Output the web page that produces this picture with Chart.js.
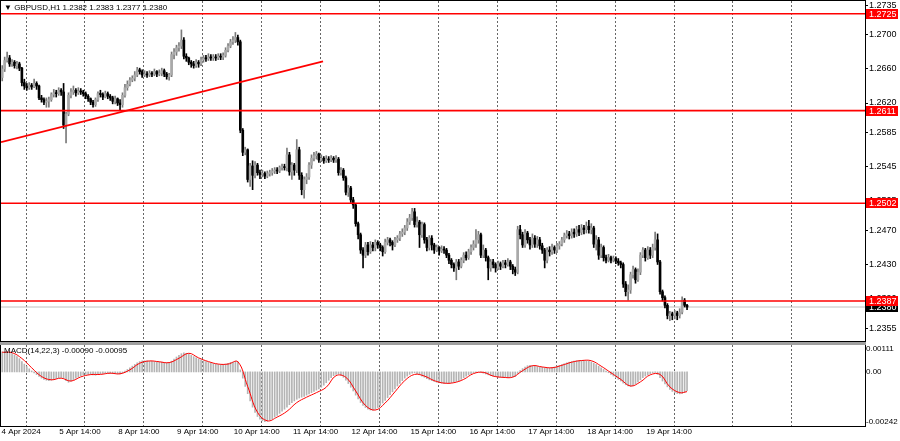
<!DOCTYPE html>
<html>
<head>
<meta charset="utf-8">
<script src="https://cdn.jsdelivr.net/npm/chart.js@4.4.1/dist/chart.umd.min.js"></script>
<style>
  body { margin: 0; background: #fff; }
  #wrap { position: relative; width: 900px; height: 441px; overflow: hidden; }
  .pane { position: absolute; left: 0; width: 900px; }
  .lbl { position: absolute; font: 8px "Liberation Sans", Arial, sans-serif; color: #000; white-space: pre; }
</style>
</head>
<body>
<div id="wrap">
  <div class="pane" style="top:0;height:342px"><canvas id="mainChart"></canvas></div>
  <div class="pane" style="top:342px;height:99px"><canvas id="macdChart"></canvas></div>
  <div class="lbl" style="left:4px;top:3px">▼ GBPUSD,H1 1.2382 1.2383 1.2377 1.2380</div>
  <div class="lbl" style="left:4px;top:346px">MACD(14,22,3) -0.00090 -0.00095</div>
</div>
<script>
// H1 bars, prices in pips (x 0.0001). open of a bar = close of the bar before
const firstOpen = 12650
const closes = [
  12660,12670,12673,12666,12668,12664,12666,12661,12644,12640,12638,12641,12639,12643,12640,12626,12624,12621,12622,12624,
  12630,12632,12631,12635,12633,12594,12607,12629,12633,12635,12632,12634,12633,12631,12628,12625,12621,12618,12624,12631,
  12630,12627,12631,12628,12626,12622,12625,12620,12618,12629,12638,12642,12647,12649,12653,12659,12657,12653,12654,12653,
  12655,12654,12657,12654,12655,12658,12654,12651,12653,12677,12680,12685,12687,12694,12675,12673,12668,12666,12664,12668,
  12666,12671,12673,12672,12674,12673,12674,12673,12675,12674,12676,12682,12687,12692,12694,12697,12692,12588,12562,12565,
  12530,12546,12535,12547,12538,12536,12537,12534,12537,12538,12540,12541,12540,12544,12545,12544,12559,12539,12547,12541,
  12565,12535,12518,12530,12533,12547,12555,12558,12560,12553,12555,12552,12554,12553,12555,12553,12554,12538,12541,12532,
  12515,12520,12506,12500,12478,12465,12447,12441,12453,12445,12453,12450,12456,12453,12450,12445,12456,12459,12456,12453,
  12459,12461,12466,12468,12473,12480,12485,12492,12477,12480,12465,12477,12459,12450,12461,12453,12447,12450,12446,12448,
  12447,12441,12435,12430,12426,12433,12428,12435,12441,12438,12445,12450,12454,12459,12465,12441,12447,12438,12426,12433,
  12430,12426,12431,12428,12432,12430,12433,12428,12424,12421,12471,12465,12453,12467,12459,12453,12461,12454,12459,12452,
  12447,12435,12447,12445,12450,12447,12452,12454,12459,12464,12466,12464,12468,12466,12471,12468,12473,12471,12475,12471,
  12473,12454,12459,12441,12450,12438,12435,12438,12435,12437,12434,12432,12430,12407,12398,12400,12418,12424,12412,12421,
  12441,12447,12438,12447,12441,12450,12459,12433,12398,12391,12382,12370,12372,12370,12373,12370,12374,12388,12382,12380
]
const highs = [
  12664,12674,12680,12676,12671,12670,12669,12668,12662,12648,12643,12644,12643,12648,12645,12641,12629,12626,12626,12627,
  12632,12636,12635,12638,12637,12643,12609,12632,12637,12640,12637,12638,12637,12635,12633,12630,12626,12623,12626,12633,
  12635,12632,12634,12633,12630,12628,12628,12626,12624,12632,12642,12646,12650,12652,12657,12662,12661,12659,12658,12657,
  12658,12657,12660,12658,12659,12661,12660,12656,12655,12680,12684,12688,12691,12706,12697,12678,12674,12670,12669,12671,
  12670,12674,12676,12676,12678,12677,12677,12677,12678,12678,12679,12685,12690,12695,12698,12703,12700,12694,12590,12568,
  12566,12549,12552,12551,12549,12541,12541,12539,12540,12541,12543,12544,12544,12546,12548,12548,12567,12562,12550,12549,
  12577,12568,12538,12533,12537,12550,12559,12562,12563,12561,12559,12557,12558,12557,12558,12557,12558,12556,12544,12543,
  12534,12523,12522,12509,12501,12480,12467,12450,12456,12456,12457,12456,12459,12458,12455,12452,12460,12462,12461,12458,
  12462,12464,12469,12472,12476,12484,12489,12496,12496,12486,12482,12480,12479,12462,12464,12464,12455,12453,12451,12452,
  12451,12449,12443,12437,12432,12436,12436,12438,12444,12445,12448,12453,12458,12471,12469,12467,12453,12449,12440,12436,
  12436,12432,12434,12433,12435,12435,12437,12435,12430,12427,12475,12476,12468,12471,12469,12462,12466,12464,12463,12462,
  12455,12449,12450,12451,12454,12452,12455,12457,12462,12467,12470,12469,12472,12472,12475,12476,12477,12476,12480,12482,
  12478,12475,12464,12462,12454,12452,12441,12442,12440,12440,12439,12437,12434,12432,12410,12406,12421,12428,12426,12425,
  12444,12450,12449,12451,12450,12454,12468,12466,12435,12400,12393,12384,12375,12374,12376,12375,12378,12392,12390,12383
]
const lows = [
  12646,12657,12668,12663,12663,12661,12660,12658,12640,12636,12635,12636,12636,12638,12636,12624,12621,12618,12615,12615,
  12622,12627,12627,12629,12629,12590,12573,12605,12626,12630,12628,12630,12630,12628,12625,12622,12618,12615,12616,12622,
  12627,12624,12626,12625,12623,12619,12619,12617,12612,12615,12627,12635,12640,12645,12646,12651,12654,12650,12651,12650,
  12651,12651,12652,12651,12652,12652,12651,12648,12647,12651,12672,12676,12681,12684,12672,12669,12665,12662,12661,12662,
  12662,12664,12668,12669,12670,12670,12670,12670,12671,12671,12671,12674,12680,12685,12689,12691,12688,12585,12558,12559,
  12527,12522,12518,12532,12535,12531,12533,12531,12532,12534,12535,12537,12537,12538,12541,12541,12540,12535,12530,12535,
  12538,12530,12512,12508,12525,12530,12543,12552,12554,12550,12551,12549,12550,12550,12551,12550,12550,12535,12535,12529,
  12512,12510,12503,12496,12475,12460,12443,12426,12438,12441,12443,12446,12446,12449,12446,12440,12443,12453,12452,12447,
  12451,12456,12458,12463,12465,12470,12477,12482,12474,12474,12450,12462,12455,12446,12447,12447,12443,12445,12441,12444,
  12443,12438,12431,12426,12422,12412,12424,12426,12432,12435,12436,12442,12447,12450,12455,12438,12438,12434,12412,12422,
  12426,12421,12424,12424,12426,12426,12428,12424,12419,12417,12419,12460,12450,12450,12455,12448,12450,12450,12450,12448,
  12443,12426,12432,12440,12442,12443,12444,12448,12452,12456,12461,12460,12461,12462,12463,12464,12465,12466,12467,12467,
  12466,12450,12447,12436,12438,12434,12432,12433,12432,12433,12431,12429,12426,12403,12393,12388,12396,12414,12408,12410,
  12418,12438,12434,12436,12437,12438,12447,12430,12395,12387,12379,12366,12364,12365,12366,12365,12367,12372,12380,12377
]

// MACD main (histogram), in 0.00001 units, one per bar
const macdMain = [
  97,96,95,93,88,82,74,64,50,38,26,15,5,-5,-13,-22,-30,-36,-40,-42,
  -40,-36,-32,-28,-26,-30,-42,-50,-45,-38,-30,-24,-18,-14,-12,-12,-13,-15,-16,-13,
  -9,-7,-6,-6,-7,-8,-8,-9,-10,-5,4,12,20,28,36,44,50,53,54,53,
  52,51,50,49,48,47,46,45,44,52,62,72,80,88,92,90,86,80,74,68,
  63,58,54,50,46,43,40,38,36,35,35,38,42,46,48,50,49,10,-30,-70,
  -105,-140,-170,-195,-215,-228,-236,-240,-238,-232,-226,-218,-210,-200,-190,-180,-170,-158,-148,-140,
  -132,-126,-122,-118,-112,-106,-100,-94,-88,-82,-74,-64,-52,-40,-28,-18,-12,-10,-16,-26,
  -40,-56,-74,-92,-112,-130,-148,-162,-172,-180,-184,-184,-180,-172,-162,-150,-138,-124,-110,-96,
  -82,-68,-55,-42,-30,-20,-12,-6,-4,-8,-14,-20,-26,-32,-38,-42,-46,-50,-52,-54,
  -55,-55,-54,-52,-50,-46,-42,-36,-28,-20,-14,-8,-4,-2,0,-2,-6,-10,-14,-18,
  -20,-22,-24,-26,-26,-26,-26,-25,-24,-22,-8,6,16,24,30,32,30,28,26,24,
  22,20,18,20,22,24,28,32,36,40,44,47,50,52,54,55,55,55,54,52,
  48,42,36,28,20,12,4,-4,-12,-20,-28,-36,-44,-54,-62,-68,-70,-66,-58,-48,
  -38,-28,-20,-14,-8,-4,-2,-12,-28,-44,-58,-72,-84,-94,-100,-104,-106,-104,-98,-90
]
// signal line, 0.00001 units, read every 4th bar (last one at bar 279)
const macdSignal = [
  95,93,65,20,-22,-38,-30,-44,-24,-13,-12,-6,-9,10,42,53,49,45,66,90,
  68,50,38,38,49,-70,-195,-236,-218,-190,-148,-122,-100,-74,-18,-26,-92,-162,-184,-150,
  -96,-42,-12,-20,-42,-54,-52,-36,-8,-2,-20,-26,-25,6,30,24,20,32,47,55,
  54,28,-4,-36,-68,-48,-14,-12,-72,-100,-95
]

// horizontal levels and the trend line
const levels = [1.2725, 1.2611, 1.2502, 1.2387]
const bidPrice = 1.2380
const trendBars = [0, 131.2]
const trendPrices = [1.2574, 1.2669]

const priceTicks = [1.2735, 1.2700, 1.2660, 1.2620, 1.2585, 1.2545, 1.2505, 1.2470, 1.2430, 1.2390, 1.2355]
const macdTicks = [0.00111, 0, -0.00242]
const dayLabels = ['4 Apr 2024', '5 Apr 14:00', '8 Apr 14:00', '9 Apr 14:00', '10 Apr 14:00', '11 Apr 14:00',
  '12 Apr 14:00', '15 Apr 14:00', '16 Apr 14:00', '17 Apr 14:00', '18 Apr 14:00', '19 Apr 14:00', '', '']

Chart.defaults.font.family = '"Liberation Sans", Arial, sans-serif'
Chart.defaults.font.size = 9
Chart.defaults.color = '#000'

const nBars = closes.length
const opens = closes.map((c, i) => i === 0 ? firstOpen : closes[i - 1])
const px = v => v / 10000
const X_MAX = 352
const gridTicks = dayLabels.map((l, k) => 10.2 + 24 * k)

const bodies = [], wicks = [], bodyCol = [], wickCol = []
for (let i = 0; i < nBars; i++) {
  const o = opens[i], c = closes[i]
  const hi = Math.max(highs[i], o, c), lo = Math.min(lows[i], o, c)
  bodies.push({x: i + 0.5, y: [px(Math.min(o, c)), px(Math.max(o, c))]})
  wicks.push({x: i + 0.5, y: [px(lo), px(hi)]})
  const up = c >= o
  bodyCol.push(up ? '#a9a9a9' : '#000')
  wickCol.push(up ? '#7a7a7a' : '#000')
}

function xScale(showLabels) {
  return {
    type: 'linear', min: 0, max: X_MAX, offset: false,
    afterBuildTicks: s => { s.ticks = gridTicks.map(v => ({value: v})) },
    afterFit: s => { s.height = showLabels ? 15 : 0; s.paddingLeft = 0; s.paddingRight = 0 },
    grid: {color: '#666', lineWidth: 1, drawTicks: false, offset: false},
    border: {display: false, dash: [2, 2]},
    ticks: {
      display: showLabels, autoSkip: false, maxRotation: 0, padding: 1, labelOffset: -5,
      font: {size: 8},
      callback: (v, idx) => dayLabels[idx]
    }
  }
}

function yFit(s) {
  s.width = 35
  s.paddingTop = 0
  s.paddingBottom = 0
}

const frame = {
  id: 'frame',
  afterDraw(chart) {
    const {ctx, chartArea: a} = chart
    ctx.save()
    ctx.strokeStyle = '#000'
    ctx.lineWidth = 1
    ctx.strokeRect(a.left - 0.5, a.top - 0.5, a.right - a.left + 1, a.bottom - a.top + 1)
    ctx.restore()
  }
}

const priceBoxes = {
  id: 'priceBoxes',
  afterDraw(chart) {
    const {ctx, chartArea: a, scales} = chart
    const y = scales.y
    ctx.save()
    ctx.font = '9px "Liberation Sans", Arial, sans-serif'
    ctx.textBaseline = 'middle'
    const box = (v, fill) => {
      const py = Math.round(y.getPixelForValue(v))
      ctx.fillStyle = fill
      ctx.fillRect(a.right + 1, py - 5, 32, 10)
      ctx.fillStyle = '#fff'
      ctx.fillText(v.toFixed(4), a.right + 4, py + 0.5)
    }
    box(bidPrice, '#000')
    levels.forEach(v => box(v, '#ff0000'))
    ctx.restore()
  }
}

const lineSet = (data, color, width) => ({
  type: 'line', data, borderColor: color, borderWidth: width,
  pointRadius: 0, fill: false, order: 0
})

new Chart(document.getElementById('mainChart'), {
  type: 'bar',
  data: {
    datasets: [
      ...levels.map(v => lineSet([{x: 0, y: v}, {x: X_MAX, y: v}], '#ff0000', 1.6)),
      lineSet(trendBars.map((b, i) => ({x: b, y: trendPrices[i]})), '#ff0000', 1.6),
      {...lineSet([{x: 0, y: bidPrice}, {x: X_MAX, y: bidPrice}], '#c0c0c0', 1), order: 3},
      {data: bodies, backgroundColor: bodyCol, barThickness: 2, minBarLength: 1, grouped: false, order: 1},
      {data: wicks, backgroundColor: wickCol, barThickness: 1, minBarLength: 1, grouped: false, order: 2}
    ]
  },
  options: {
    responsive: true,
    maintainAspectRatio: false,
    animation: false,
    layout: {padding: {left: 1, top: 1, right: 0, bottom: 1}},
    plugins: {legend: {display: false}, tooltip: {enabled: false}},
    scales: {
      x: xScale(false),
      y: {
        position: 'right', min: 1.2340, max: 1.2740,
        afterBuildTicks: s => { s.ticks = priceTicks.map(v => ({value: v})) },
        afterFit: yFit,
        grid: {drawOnChartArea: false, drawTicks: true, tickLength: 3, color: '#000'},
        border: {display: true, color: '#000'},
        ticks: {padding: 1, callback: v => v.toFixed(4)}
      }
    }
  },
  plugins: [frame, priceBoxes]
})

const separator = {
  id: 'separator',
  afterDraw(chart) {
    const {ctx, chartArea: a} = chart
    ctx.save()
    ctx.fillStyle = '#a0a0a0'
    ctx.fillRect(0, 0, a.right + 1, 3)
    ctx.restore()
  }
}

new Chart(document.getElementById('macdChart'), {
  type: 'bar',
  data: {
    datasets: [
      {
        type: 'line',
        data: macdSignal.map((v, k) => ({x: Math.min(k * 4, nBars - 1) + 0.5, y: v / 100000})),
        borderColor: '#ff0000', borderWidth: 1, pointRadius: 0, tension: 0.4, order: 0
      },
      {
        data: macdMain.map((v, i) => ({x: i + 0.5, y: v / 100000})),
        backgroundColor: '#b4b4b4', barThickness: 1, grouped: false, order: 1
      }
    ]
  },
  options: {
    responsive: true,
    maintainAspectRatio: false,
    animation: false,
    layout: {padding: {left: 1, top: 3, right: 0, bottom: 0}},
    plugins: {legend: {display: false}, tooltip: {enabled: false}},
    scales: {
      x: xScale(true),
      y: {
        position: 'right', min: -0.00261, max: 0.0013,
        afterBuildTicks: s => { s.ticks = macdTicks.map(v => ({value: v})) },
        afterFit: yFit,
        grid: {display: false, drawTicks: false},
        border: {display: true, color: '#000'},
        ticks: {padding: 1, font: {size: 8}, callback: v => v === 0 ? '0.00' : v.toFixed(5)}
      }
    }
  },
  plugins: [frame, separator]
})
</script>
</body>
</html>
